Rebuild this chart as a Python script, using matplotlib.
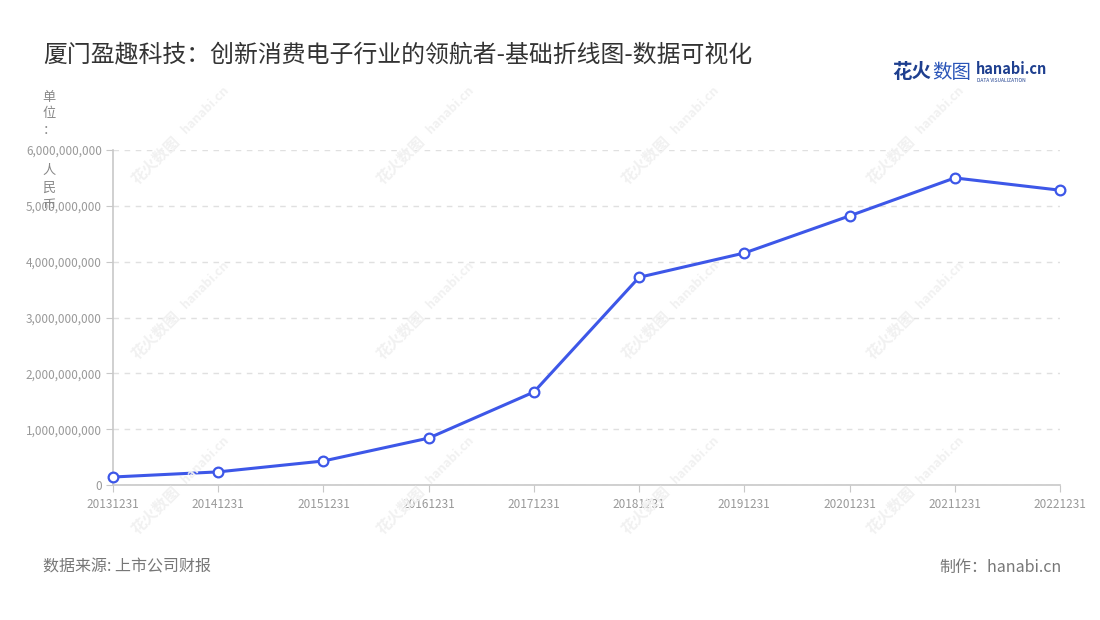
import matplotlib
matplotlib.use("Agg")
import matplotlib.pyplot as plt
from matplotlib.ticker import FuncFormatter, MultipleLocator

plt.rcParams['font.family'] = ['Noto Sans CJK SC', 'DejaVu Sans']

dates = ["20131231", "20141231", "20151231", "20161231", "20171231",
         "20181231", "20191231", "20201231", "20211231", "20221231"]
values = [0.143e9, 0.235e9, 0.43e9, 0.84e9, 1.665e9,
          3.72e9, 4.155e9, 4.82e9, 5.50e9, 5.28e9]

title = "厦门盈趣科技：创新消费电子行业的领航者-基础折线图-数据可视化"
source = "数据来源: 上市公司财报"
maker = "制作：hanabi.cn"

W, H = 1100, 620
fig = plt.figure(figsize=(11, 6.2), dpi=100)
ax = fig.add_axes([113 / W, 1 - 485 / H, (1060 - 113) / W, (485 - 150) / H])

def px(x, y):
    return x / W, 1 - y / H

# watermarks
for wx in [155, 400, 645, 890]:
    for wy in [160, 335, 510]:
        fig.text(*px(wx, wy), "花火数图", rotation=45, fontsize=11, color="#f1f1f1",
                 ha="center", va="center", fontweight="bold", zorder=0)
        fig.text(*px(wx + 50, wy - 50), "hanabi.cn", rotation=45, fontsize=9, color="#f1f1f1",
                 ha="center", va="center", fontweight="bold", zorder=0)

xs = list(range(len(dates)))
ax.plot(xs, values, color="#3d57e8", linewidth=2.2, zorder=3,
        marker="o", markersize=7, markerfacecolor="white",
        markeredgecolor="#3d57e8", markeredgewidth=1.6, clip_on=False)

ax.set_xlim(0, len(dates) - 1)
ax.set_ylim(0, 6e9)
ax.yaxis.set_major_locator(MultipleLocator(1e9))
ax.yaxis.set_major_formatter(FuncFormatter(lambda v, p: f"{int(v):,}"))
ax.set_xticks(xs)
ax.set_xticklabels(dates)
ax.patch.set_alpha(0)

ax.grid(axis="y", linestyle=(0, (4, 4)), color="#e0e0e0", linewidth=1)
ax.grid(axis="x", visible=False)
for s in ["top", "right"]:
    ax.spines[s].set_visible(False)
ax.spines["left"].set_color("#c8c8c8")
ax.spines["bottom"].set_color("#c8c8c8")
ax.spines["left"].set_linewidth(1.2)
ax.spines["bottom"].set_linewidth(1.2)
ax.tick_params(axis="both", colors="#c8c8c8", labelcolor="#999999", labelsize=8.5, length=5)
ax.tick_params(axis="x", pad=4)
ax.tick_params(axis="y", pad=3)

# y-axis name, stacked vertically
for ch, y in [("单", 97), ("位", 114), ("：", 131), ("人", 170), ("民", 188), ("币", 206)]:
    fig.text(*px(49, y), ch, fontsize=9.5, color="#888888", ha="center", va="center")

fig.text(*px(43, 55), title, fontsize=17.2, color="#333333", ha="left", va="center")
fig.text(*px(43, 567), source, fontsize=11.5, color="#777777", ha="left", va="center")
fig.text(*px(1062, 567), maker, fontsize=11.5, color="#777777", ha="right", va="center")

# logo
fig.text(*px(892, 72), "花火", fontsize=14, color="#1e3f8f", ha="left", va="center", fontweight="bold")
fig.text(*px(932, 72), "数图", fontsize=14, color="#2a55b8", ha="left", va="center")
fig.text(*px(976, 69), "hanabi.cn", fontsize=10.5, color="#1e3f8f", ha="left", va="center", fontweight="bold")
fig.text(*px(977, 80), "DATA VISUALIZATION", fontsize=3.5, color="#1e3f8f", ha="left", va="center")

fig.savefig("out.png", dpi=100, facecolor="white")
